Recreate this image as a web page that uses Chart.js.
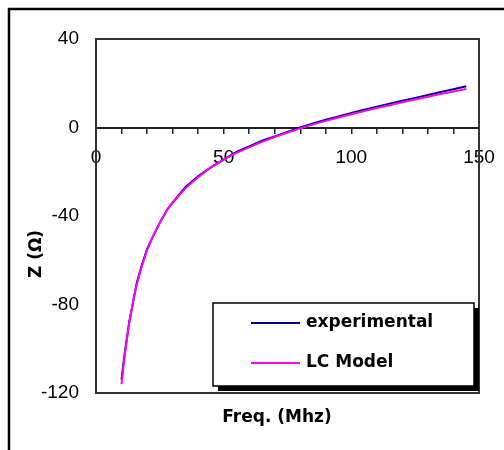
<!DOCTYPE html>
<html>
<head>
<meta charset="utf-8">
<script src="https://cdn.jsdelivr.net/npm/chart.js@4.4.0/dist/chart.umd.min.js"></script>
<style>
  html, body { margin: 0; padding: 0; background: #fff; }
  #wrap { width: 504px; height: 450px; }
</style>
</head>
<body>
<div id="wrap"><canvas id="z-chart" width="504" height="450"></canvas></div>
<script>
var freq = [10, 11, 12, 13, 14, 15, 16, 18, 20, 22, 25, 28, 30, 35, 40, 45, 50, 55, 60, 65, 70, 75, 80, 85, 90, 95, 100, 105, 110, 115, 120, 125, 130, 135, 140, 145]; // MHz
var zExp = [-114, -104, -96, -88, -82, -76, -70, -62, -55, -50, -43, -37, -34, -27, -22, -18, -14.5, -11, -8.5, -6, -4, -2, 0, 1.8, 3.5, 5, 6.6, 8, 9.4, 10.8, 12.1, 13.4, 14.7, 16, 17.3, 18.6];
var zModel = [-116, -105.5, -96.5, -88.5, -82, -76, -71, -62.5, -55.5, -50, -43, -37, -34, -27.5, -22.5, -18, -14.5, -11.5, -9, -6.5, -4.3, -2.3, -0.4, 1.4, 3, 4.5, 6, 7.4, 8.8, 10.1, 11.4, 12.7, 13.9, 15.1, 16.3, 17.4];
var seriesNames = ["experimental", "LC Model"];
var xTitle = "Freq. (Mhz)";
var yTitle = "Z (Ω)";

var tickFont = { family: "Liberation Sans", size: 19 };
var boldFont = "bold 17px 'DejaVu Sans'";

function toPoints(ys) {
    return freq.map(function (f, i) { return { x: f, y: ys[i] }; });
}

// frame, plot box, axis titles and the boxed legend
var decor = {
    id: "decor",
    beforeDraw: function (chart) {
        var ctx = chart.ctx;
        ctx.save();
        ctx.fillStyle = "#fff";
        ctx.fillRect(0, 0, chart.width, chart.height);
        ctx.restore();
    },
    afterDraw: function (chart) {
        var ctx = chart.ctx;
        var a = chart.chartArea;
        ctx.save();

        // outer frame (only top and left show)
        ctx.strokeStyle = "#000";
        ctx.lineWidth = 2.5;
        ctx.beginPath();
        ctx.moveTo(9, 460);
        ctx.lineTo(9, 9);
        ctx.lineTo(520, 9);
        ctx.stroke();

        // plot box
        ctx.strokeStyle = "#333";
        ctx.lineWidth = 2;
        ctx.strokeRect(a.left, a.top, a.right - a.left, a.bottom - a.top);

        // axis titles
        ctx.fillStyle = "#000";
        ctx.font = boldFont;
        ctx.textAlign = "center";
        ctx.textBaseline = "middle";
        ctx.fillText(xTitle, 277, 418);
        ctx.save();
        ctx.translate(37, 254);
        ctx.rotate(-Math.PI / 2);
        ctx.fillText(yTitle, 0, 0);
        ctx.restore();

        // legend
        var lx = 213, ly = 303, lw = 261, lh = 83;
        ctx.fillStyle = "#000";
        ctx.fillRect(lx + 5, ly + 5, lw, lh);
        ctx.fillStyle = "#fff";
        ctx.fillRect(lx, ly, lw, lh);
        ctx.strokeStyle = "#000";
        ctx.lineWidth = 1.5;
        ctx.strokeRect(lx, ly, lw, lh);

        ctx.textAlign = "left";
        chart.data.datasets.forEach(function (ds, i) {
            var yy = 323 + i * 40;
            ctx.strokeStyle = ds.borderColor;
            ctx.lineWidth = 2;
            ctx.beginPath();
            ctx.moveTo(251, yy);
            ctx.lineTo(300, yy);
            ctx.stroke();
            ctx.fillStyle = "#000";
            ctx.fillText(ds.label, 306, yy);
        });
        ctx.restore();
    }
};

var config = {
    type: "line",
    data: {
        datasets: [{
            label: seriesNames[0],
            data: toPoints(zExp),
            borderColor: "#000080",
            borderWidth: 2,
            pointRadius: 0,
            tension: 0,
            order: 1
        }, {
            label: seriesNames[1],
            data: toPoints(zModel),
            borderColor: "#ff00ff",
            borderWidth: 2,
            pointRadius: 0,
            tension: 0,
            order: 0
        }]
    },
    options: {
        responsive: false,
        animation: false,
        layout: { padding: { top: 39, right: 25, bottom: 57, left: 0 } },
        scales: {
            x: {
                type: "linear",
                position: { y: 0 },
                min: 0,
                max: 150,
                ticks: {
                    stepSize: 10,
                    autoSkip: false,
                    maxRotation: 0,
                    padding: 14,
                    color: "#000",
                    font: tickFont,
                    callback: function (v) { return v % 50 === 0 ? v : ""; }
                },
                grid: { drawOnChartArea: false, drawTicks: true, tickLength: 5, color: "#222", lineWidth: 1.5 },
                border: { display: true, color: "#222", width: 2 },
                title: { display: false },
                afterFit: function (scale) { scale.paddingLeft = 0; scale.paddingRight = 0; }
            },
            y: {
                min: -120,
                max: 40,
                ticks: { stepSize: 40, padding: 17, color: "#000", font: tickFont },
                grid: { display: false, drawTicks: false },
                border: { display: false },
                afterFit: function (scale) { scale.width = 96; }
            }
        },
        plugins: {
            legend: { display: false },
            tooltip: { enabled: false }
        }
    },
    plugins: [decor]
};

var zChart = new Chart(document.getElementById("z-chart"), config);
</script>
</body>
</html>
